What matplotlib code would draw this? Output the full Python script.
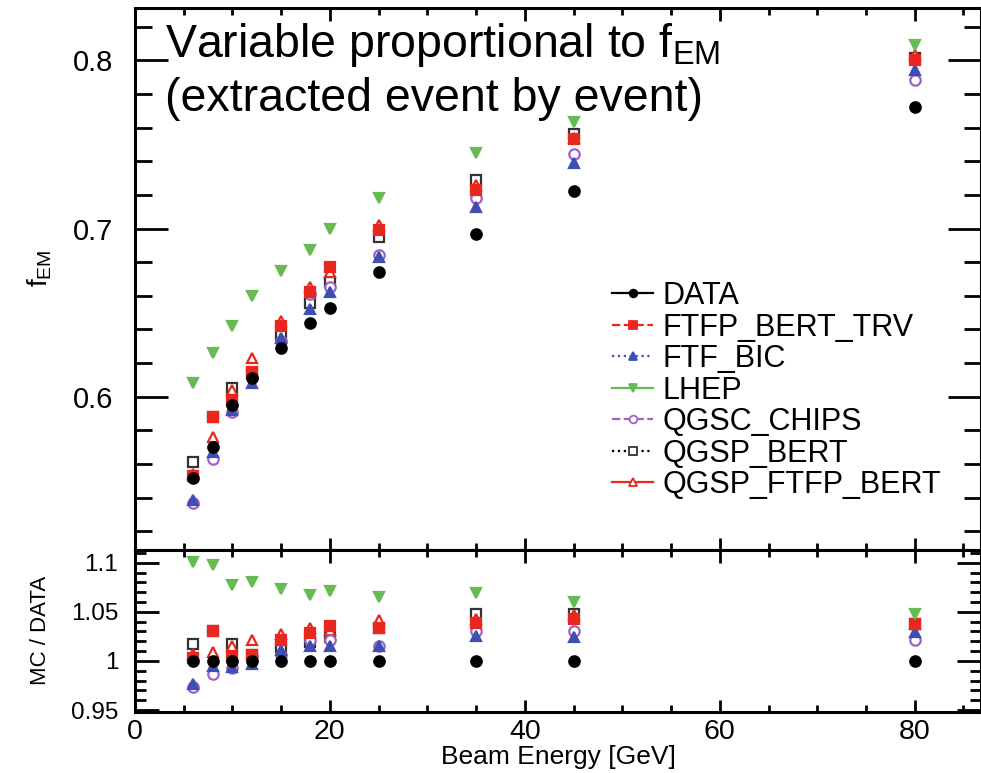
import matplotlib
matplotlib.use('Agg')
import matplotlib.pyplot as plt
from matplotlib.lines import Line2D
from matplotlib.ticker import MultipleLocator

plt.rcParams['font.family'] = ['Liberation Sans', 'DejaVu Sans']

# beam energies (GeV)
energy = [6, 8, 10, 12, 15, 18, 20, 25, 35, 45, 80]

# fEM per physics list
data_fem        = [0.552, 0.570, 0.595, 0.611, 0.629, 0.644, 0.653, 0.674, 0.697, 0.722, 0.772]
ftfp_trv_fem    = [0.553, 0.588, 0.598, 0.615, 0.642, 0.662, 0.677, 0.699, 0.723, 0.753, 0.800]
ftf_bic_fem     = [0.539, 0.567, 0.592, 0.608, 0.635, 0.652, 0.662, 0.683, 0.713, 0.739, 0.794]
lhep_fem        = [0.608, 0.626, 0.642, 0.660, 0.675, 0.687, 0.700, 0.718, 0.745, 0.763, 0.809]
qgsc_chips_fem  = [0.537, 0.563, 0.591, 0.612, 0.633, 0.661, 0.665, 0.684, 0.718, 0.744, 0.788]
qgsp_bert_fem   = [0.561, 0.588, 0.605, 0.614, 0.637, 0.656, 0.668, 0.695, 0.729, 0.756, 0.801]
qgsp_ftfp_fem   = [0.554, 0.576, 0.604, 0.623, 0.645, 0.665, 0.674, 0.702, 0.726, 0.754, 0.803]

# MC / DATA ratios
data_ratio       = [1.0] * 11
ftfp_trv_ratio   = [1.003, 1.031, 1.004, 1.006, 1.021, 1.028, 1.036, 1.034, 1.039, 1.043, 1.038]
ftf_bic_ratio    = [0.977, 0.995, 0.994, 0.997, 1.011, 1.015, 1.015, 1.015, 1.025, 1.024, 1.029]
lhep_ratio       = [1.101, 1.098, 1.077, 1.080, 1.073, 1.067, 1.071, 1.065, 1.069, 1.060, 1.048]
qgsc_chips_ratio = [0.973, 0.987, 0.993, 1.005, 1.006, 1.021, 1.021, 1.015, 1.031, 1.031, 1.021]
qgsp_bert_ratio  = [1.017, 1.031, 1.017, 1.006, 1.014, 1.019, 1.024, 1.034, 1.048, 1.048, 1.038]
qgsp_ftfp_ratio  = [1.007, 1.009, 1.015, 1.021, 1.027, 1.034, 1.032, 1.042, 1.043, 1.047, 1.038]

labels = ['DATA', 'FTFP_BERT_TRV', 'FTF_BIC', 'LHEP', 'QGSC_CHIPS', 'QGSP_BERT', 'QGSP_FTFP_BERT']
fem = [data_fem, ftfp_trv_fem, ftf_bic_fem, lhep_fem, qgsc_chips_fem, qgsp_bert_fem, qgsp_ftfp_fem]
ratio = [data_ratio, ftfp_trv_ratio, ftf_bic_ratio, lhep_ratio, qgsc_chips_ratio, qgsp_bert_ratio, qgsp_ftfp_ratio]

red, blue, green, purple = '#e8281e', '#3d4fb2', '#66bb55', '#a062c2'
styles = [
    dict(marker='o', color='black', mfc='black', mec='black', ls='-'),
    dict(marker='s', color=red, mfc=red, mec=red, ls='--'),
    dict(marker='^', color=blue, mfc=blue, mec=blue, ls=':'),
    dict(marker='v', color=green, mfc=green, mec=green, ls='-'),
    dict(marker='o', color=purple, mfc='white', mec=purple, ls='--'),
    dict(marker='s', color='black', mfc='white', mec='#333333', ls=':'),
    dict(marker='^', color=red, mfc='white', mec=red, ls='-'),
]
# draw order: open markers first, DATA last
order = [5, 6, 4, 2, 1, 3, 0]

fig = plt.figure(figsize=(9.81, 7.73), dpi=100)
ax = fig.add_axes([135 / 981, 1 - 550 / 773, 1 - 135 / 981, 542 / 773])
axr = fig.add_axes([135 / 981, 1 - 712 / 773, 1 - 135 / 981, 162 / 773], sharex=ax)

for i in order:
    st = styles[i]
    ax.plot(energy, fem[i], ls='none', marker=st['marker'], ms=7.5, mfc=st['mfc'],
            mec=st['mec'], mew=1.6)
    axr.plot(energy, ratio[i], ls='none', marker=st['marker'], ms=7.5, mfc=st['mfc'],
             mec=st['mec'], mew=1.6)

ax.set_xlim(0, 86.8)
ax.set_ylim(0.509, 0.831)
axr.set_ylim(0.948, 1.113)

ax.xaxis.set_major_locator(MultipleLocator(20))
ax.xaxis.set_minor_locator(MultipleLocator(5))
ax.yaxis.set_major_locator(MultipleLocator(0.1))
ax.yaxis.set_minor_locator(MultipleLocator(0.02))
axr.yaxis.set_major_locator(MultipleLocator(0.05))
axr.yaxis.set_minor_locator(MultipleLocator(0.01))
ax.set_yticks([0.6, 0.7, 0.8])
ax.set_yticklabels(['0.6', '0.7', '0.8'])
axr.set_yticks([0.95, 1.0, 1.05, 1.1])
axr.set_yticklabels(['0.95', '1', '1.05', '1.1'])

for a in (ax, axr):
    for s in a.spines.values():
        s.set_linewidth(2.2)
    a.tick_params(which='both', direction='in', top=True, right=True, width=2)
    a.tick_params(axis='x', which='major', length=9)
    a.tick_params(axis='x', which='minor', length=5)
ax.tick_params(axis='y', which='major', length=24, labelsize=21, pad=16)
ax.tick_params(axis='y', which='minor', length=12)
ax.tick_params(axis='x', labelbottom=False)
axr.tick_params(axis='y', which='major', length=17, labelsize=17.5, pad=12)
axr.tick_params(axis='y', which='minor', length=8)
axr.tick_params(axis='x', labelsize=20.5, pad=5)

axr.set_xlabel('Beam Energy [GeV]', fontsize=19, labelpad=0)
fig.text(40 / 981, 1 - 268 / 773, r'$\mathregular{f_{EM}}$', rotation=90,
         fontsize=20, ha='center', va='center')
fig.text(40 / 981, 1 - 630 / 773, 'MC / DATA', rotation=90,
         fontsize=16, ha='center', va='center')

fig.text(165 / 981, 1 - 57 / 773, r'Variable proportional to $\mathregular{f_{EM}}$',
         fontsize=33.5, va='baseline')
fig.text(165 / 981, 1 - 111 / 773, '(extracted event by event)',
         fontsize=33.5, va='baseline')

handles = [Line2D([], [], color=st['color'], ls=st['ls'], lw=1.6, marker=st['marker'],
                  ms=5.5, mfc=st['mfc'], mec=st['mec'], mew=1.3) for st in styles]
ax.legend(handles, labels, loc='upper left', bbox_to_anchor=(612 / 981, 1 - 281 / 773),
          bbox_transform=fig.transFigure, frameon=False, fontsize=22, borderpad=0,
          borderaxespad=0, labelspacing=0.05, handlelength=1.35, handletextpad=0.3)

fig.savefig('out.png', dpi=100)
